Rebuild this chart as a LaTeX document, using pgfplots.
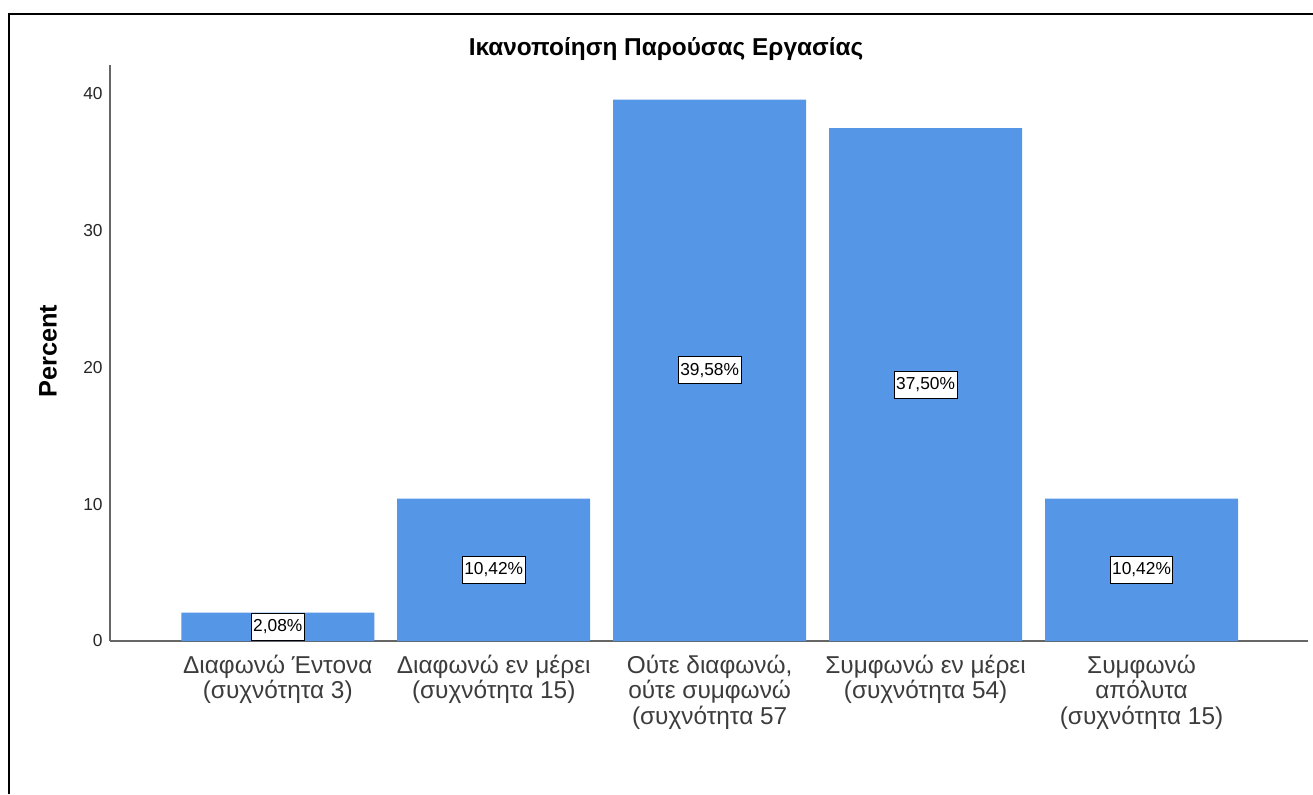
\documentclass[border=0pt]{standalone}
\usepackage{fontspec}
\setmainfont{Liberation Sans}
\usepackage{pgfplots}
\pgfplotsset{compat=1.18}
\definecolor{barblue}{RGB}{85,150,230}
\definecolor{labgray}{RGB}{60,60,60}
\begin{document}
\begin{tikzpicture}
\useasboundingbox (0,0) rectangle (984.75pt,595.5pt);
\draw[black, line width=1.5pt] (6.5pt,0) -- (6.5pt,585pt) -- (990pt,585pt);
\begin{axis}[
  at={(82.5pt,114.75pt)}, anchor=south west,
  scale only axis, width=898.5pt, height=432pt,
  xmin=-0.777, xmax=4.771, ymin=0, ymax=42.12,
  axis x line*=bottom, axis y line*=left,
  axis line style={black!60, line width=0.8pt},
  x axis line style={-}, y axis line style={-},
  major tick length=0pt,
  xtick={0,1,2,3,4},
  xticklabels={{Διαφωνώ Έντονα\\(συχνότητα 3)},{Διαφωνώ εν μέρει\\(συχνότητα 15)},{Ούτε διαφωνώ,\\ούτε συμφωνώ\\(συχνότητα 57},{Συμφωνώ εν μέρει\\(συχνότητα 54)},{Συμφωνώ\\απόλυτα\\(συχνότητα 15)}},
  xticklabel style={align=center, font=\fontsize{18.3}{19.2}\selectfont, text=labgray, anchor=north, yshift=-6.8pt},
  ytick={0,10,20,30,40},
  yticklabel style={font=\fontsize{13}{14}\selectfont, text=black!85, xshift=-2pt},
  /pgf/number format/assume math mode=true,
  clip=false,
]
\addplot[ybar, bar width=0.894, fill=barblue, draw=none,
  nodes near coords={\pgfmathprintnumber[fixed, fixed zerofill, precision=2, use comma]{\pgfplotspointmeta}\%},
  visualization depends on={rawy \as \rawy},
  every node near coord/.append style={anchor=center, shift={(axis direction cs:0,-\rawy/2)}, fill=white, draw=black, line width=0.7pt, inner xsep=1.5pt, inner ysep=4.8pt, font=\fontsize{13}{14}\selectfont, text=black},
] coordinates {(0,2.08) (1,10.42) (2,39.58) (3,37.50) (4,10.42)};
\end{axis}
\node[font=\bfseries\fontsize{18.3}{20}\selectfont] at (499.5pt,559pt) {Ικανοποίηση Παρούσας Εργασίας};
\node[font=\bfseries\fontsize{19}{21}\selectfont, rotate=90] at (36pt,332pt) {Percent};
\end{tikzpicture}
\end{document}
